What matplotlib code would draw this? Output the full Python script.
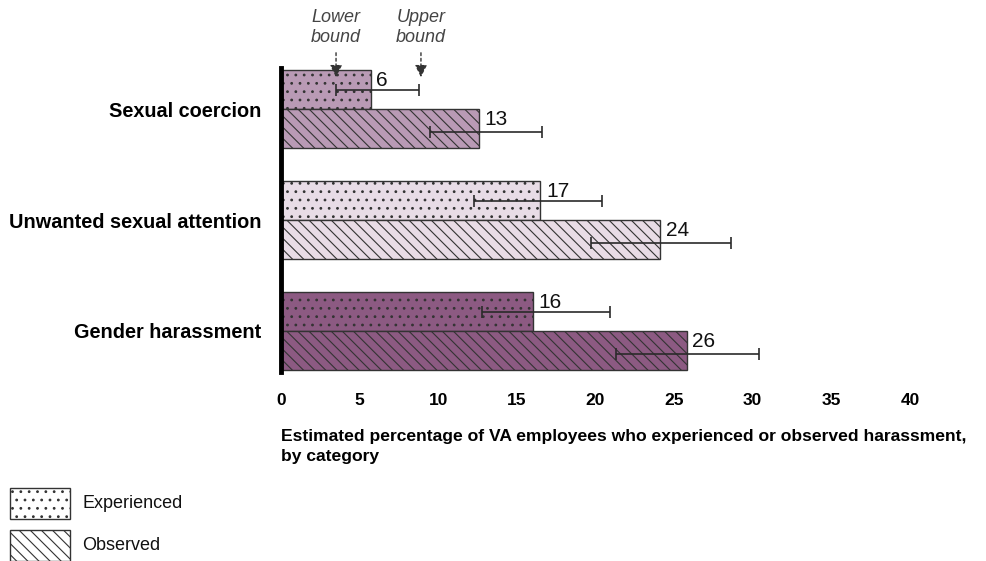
import matplotlib
matplotlib.use("Agg")
import matplotlib.pyplot as plt
from matplotlib.patches import Rectangle
import numpy as np

categories = ["Sexual coercion", "Unwanted sexual attention", "Gender harassment"]
experienced = [6, 17, 16]
observed = [13, 24, 26]
experienced_bar = [5.7, 16.5, 16.0]
observed_bar = [12.6, 24.1, 25.8]
exp_low = [3.5, 12.3, 12.8]
exp_high = [8.8, 20.4, 20.9]
obs_low = [9.5, 19.7, 21.3]
obs_high = [16.6, 28.6, 30.4]
colors = ["#b99ab5", "#e8dce6", "#8c5a82"]
xticks = [0, 5, 10, 15, 20, 25, 30, 35, 40]
xlabel_lines = ["Estimated percentage of VA employees who experienced or observed harassment,",
                "by category"]

plt.rcParams['font.family'] = ['Liberation Sans', 'DejaVu Sans']
plt.rcParams['hatch.linewidth'] = 0.8
plt.rcParams['hatch.color'] = '#3a1a3a'

W, H = 987, 561
fig = plt.figure(figsize=(W/100, H/100), dpi=100)
ax = fig.add_axes([281/W, 1-372/H, 629/W, 304/H])

ypos = np.arange(len(categories))
h = 0.35
edge = '#333333'
for i in range(len(categories)):
    ye = ypos[i] - h/2
    yo = ypos[i] + h/2
    ax.barh(ye, experienced_bar[i], height=h, color=colors[i], edgecolor=edge,
            linewidth=1.0, hatch='..')
    ax.barh(yo, observed_bar[i], height=h, color=colors[i], edgecolor=edge,
            linewidth=1.0, hatch='\\\\\\')
    ax.errorbar(experienced_bar[i], ye, xerr=[[experienced_bar[i]-exp_low[i]], [exp_high[i]-experienced_bar[i]]],
                fmt='none', ecolor='#2a2a2a', elinewidth=1.2, capsize=4.5, capthick=1.2)
    ax.errorbar(observed_bar[i], yo + 0.03, xerr=[[observed_bar[i]-obs_low[i]], [obs_high[i]-observed_bar[i]]],
                fmt='none', ecolor='#2a2a2a', elinewidth=1.2, capsize=4.5, capthick=1.2)
    ax.annotate(str(experienced[i]), (experienced_bar[i], ye - h/2), xytext=(4, -0.5),
                textcoords='offset points', ha='left', va='top', fontsize=15, color='#111111')
    ax.annotate(str(observed[i]), (observed_bar[i], yo - h/2), xytext=(4, -0.5),
                textcoords='offset points', ha='left', va='top', fontsize=15, color='#111111')

ax.set_xlim(0, 40)
ax.set_ylim(2.37, -0.37)
ax.set_xticks(xticks)
ax.set_xticklabels([str(t) for t in xticks], fontweight='bold', fontsize=12.5)
ax.set_yticks(ypos)
ax.set_yticklabels(categories, fontweight='bold', fontsize=14.3)
ax.tick_params(axis='x', length=0, pad=15)
ax.tick_params(axis='y', length=0, pad=14)
for s in ['top', 'right', 'bottom']:
    ax.spines[s].set_visible(False)
ax.spines['left'].set_linewidth(3.5)
ax.spines['left'].set_color('black')

for k, line in enumerate(xlabel_lines):
    fig.text(281/W, 1-(437 + 20*k)/H, line, fontweight='bold', fontsize=12.6,
             ha='left', va='center')

# lower/upper bound annotations
for xv, label in [(3.5, "Lower\nbound"), (8.9, "Upper\nbound")]:
    ax.annotate("", xy=(xv, -0.262), xytext=(xv, -0.532),
                arrowprops=dict(arrowstyle='-|>', linestyle=(0, (2, 2)), color='#333333',
                                lw=1.0, mutation_scale=18), annotation_clip=False)
    ax.text(xv, -0.565, label, ha='center', va='bottom', fontsize=13, style='italic',
            color='#444444', linespacing=1.25, clip_on=False)

# legend
for (y0, hatch, lab) in [(488, '..', 'Experienced'), (530, '\\\\\\', 'Observed')]:
    r = Rectangle((10/W, 1-(y0+31)/H), 60/W, 31/H, transform=fig.transFigure,
                  facecolor='white', edgecolor='#333333', linewidth=1.0, hatch=hatch)
    fig.patches.append(r)
    fig.text(82/W, 1-(y0+16)/H, lab, fontsize=13, ha='left', va='center', color='#111111')

fig.savefig("out.png", dpi=100)
